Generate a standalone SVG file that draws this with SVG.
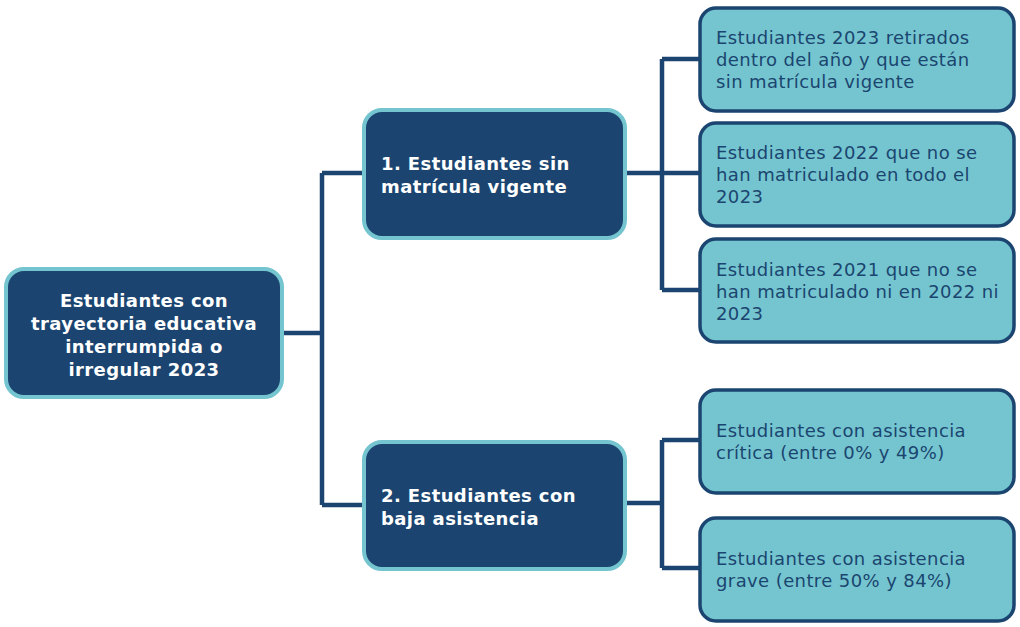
<svg xmlns="http://www.w3.org/2000/svg" width="1020" height="627" viewBox="0 0 1020 627">
<style>
.dark{fill:#1b4570;stroke:#74c5cf;stroke-width:4}
.leaf{fill:#74c5cf;stroke:#1b4570;stroke-width:3.5}
.wt{font-family:"DejaVu Sans",Verdana,sans-serif;font-size:18px;font-weight:bold;fill:#ffffff;letter-spacing:0.4px}
.lt{font-family:"DejaVu Sans",Verdana,sans-serif;font-size:18px;fill:#1b4570;letter-spacing:0.4px}
.con{fill:none;stroke:#1b4570;stroke-width:4.5}
</style>
<rect width="1020" height="627" fill="#ffffff"/>
<g id="connectors">
<path class="con" d="M282,333 H322 M322,173 V505 M322,173 H363 M322,505 H363"/>
<path class="con" d="M625,173 H662 M662,59 V290 M662,59 H699 M662,290 H699 M662,173 H699"/>
<path class="con" d="M625,503 H662 M662,440 V568 M662,440 H699 M662,568 H699"/>
</g>
<g id="root">
<rect class="dark" x="6" y="269" width="276" height="128" rx="18"/>
<text class="wt" text-anchor="middle"><tspan x="144" y="307">Estudiantes con</tspan><tspan x="144" y="330">trayectoria educativa</tspan><tspan x="144" y="353">interrumpida o</tspan><tspan x="144" y="376">irregular 2023</tspan></text>
</g>
<g id="mid1">
<rect class="dark" x="364" y="110" width="261" height="128" rx="18"/>
<text class="wt"><tspan x="381" y="170">1. Estudiantes sin</tspan><tspan x="381" y="193">matrícula vigente</tspan></text>
</g>
<g id="mid2">
<rect class="dark" x="364" y="442" width="261" height="127" rx="18"/>
<text class="wt"><tspan x="381" y="502">2. Estudiantes con</tspan><tspan x="381" y="525">baja asistencia</tspan></text>
</g>
<g id="leaf1">
<rect class="leaf" x="700" y="8" width="314" height="103" rx="16"/>
<text class="lt"><tspan x="716" y="44">Estudiantes 2023 retirados</tspan><tspan x="716" y="66">dentro del año y que están</tspan><tspan x="716" y="88">sin matrícula vigente</tspan></text>
</g>
<g id="leaf2">
<rect class="leaf" x="700" y="123" width="314" height="103" rx="16"/>
<text class="lt"><tspan x="716" y="159">Estudiantes 2022 que no se</tspan><tspan x="716" y="181">han matriculado en todo el</tspan><tspan x="716" y="203">2023</tspan></text>
</g>
<g id="leaf3">
<rect class="leaf" x="700" y="239" width="314" height="103" rx="16"/>
<text class="lt"><tspan x="716" y="276">Estudiantes 2021 que no se</tspan><tspan x="716" y="298">han matriculado ni en 2022 ni</tspan><tspan x="716" y="320">2023</tspan></text>
</g>
<g id="leaf4">
<rect class="leaf" x="700" y="390" width="314" height="103" rx="16"/>
<text class="lt"><tspan x="716" y="437">Estudiantes con asistencia</tspan><tspan x="716" y="459">crítica (entre 0% y 49%)</tspan></text>
</g>
<g id="leaf5">
<rect class="leaf" x="700" y="518" width="314" height="103" rx="16"/>
<text class="lt"><tspan x="716" y="565">Estudiantes con asistencia</tspan><tspan x="716" y="587">grave (entre 50% y 84%)</tspan></text>
</g>
</svg>
